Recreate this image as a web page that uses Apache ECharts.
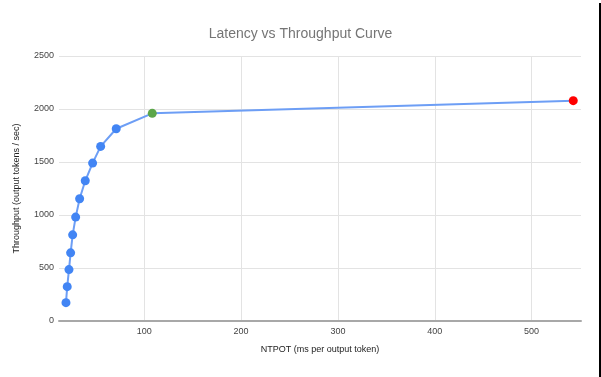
<!DOCTYPE html>
<html>
<head>
<meta charset="utf-8">
<script src="https://cdn.jsdelivr.net/npm/echarts@6/dist/echarts.min.js"></script>
<style>html,body{margin:0;padding:0;background:#fff}#c{width:601px;height:377px}</style>
</head>
<body>
<div id="c"></div>
<script>
const ntpot = [19.2, 20.5, 22.3, 24.0, 26.1, 29.2, 33.3, 39.1, 46.7, 55.0, 71.1, 108.3, 543];
const throughput = [173, 324, 485, 643, 813, 980, 1153, 1323, 1490, 1647, 1814, 1959, 2079];
const xTicks = [100, 200, 300, 400, 500];
const yTicks = [0, 500, 1000, 1500, 2000, 2500];
const kneeIndex = 11;
const lastIndex = ntpot.length - 1;

const chart = echarts.init(document.getElementById('c'), null, {renderer: 'canvas'});
const font = 'Liberation Sans, Arial, sans-serif';
chart.setOption({
  animation: false,
  title: {
    text: 'Latency vs Throughput Curve',
    left: 'center', top: 22,
    textStyle: {fontFamily: font, fontSize: 14, fontWeight: 'normal', color: '#757575'}
  },
  grid: {left: 59, right: 20, top: 56, bottom: 56, containLabel: false},
  xAxis: {
    type: 'value', min: 12, max: 551,
    name: 'NTPOT (ms per output token)', nameLocation: 'middle', nameGap: 24,
    nameTextStyle: {fontFamily: font, fontSize: 9, color: '#222'},
    axisLine: {show: true, onZero: false, lineStyle: {color: '#a8a8a8', width: 2}},
    axisTick: {show: false, customValues: xTicks},
    axisLabel: {customValues: xTicks, fontFamily: font, fontSize: 9, color: '#444', margin: 6},
    splitLine: {show: true, lineStyle: {color: '#e3e3e3', width: 1}}
  },
  yAxis: {
    type: 'value', min: 0, max: 2500, interval: 500,
    name: 'Throughput (output tokens / sec)', nameLocation: 'middle', nameGap: 38,
    nameTextStyle: {fontFamily: font, fontSize: 9, color: '#222'},
    axisLine: {show: false}, axisTick: {show: false},
    axisLabel: {customValues: yTicks, formatter: v => String(v), fontFamily: font, fontSize: 9, color: '#444', margin: 5},
    splitLine: {show: true, lineStyle: {color: '#e3e3e3', width: 1}}
  },
  series: [{
    type: 'line',
    data: ntpot.map((x, i) => [x, throughput[i]]),
    symbol: 'circle', symbolSize: 9,
    lineStyle: {color: '#6d9ef5', width: 2},
    itemStyle: {
      color: p => p.dataIndex === kneeIndex ? '#5ca64a' : (p.dataIndex === lastIndex ? '#ff0000' : '#4285f4')
    },
    z: 3
  }],
  graphic: [{
    type: 'rect', shape: {x: 599, y: 3, width: 2, height: 374},
    style: {fill: '#000'}
  }]
});
</script>
</body>
</html>
